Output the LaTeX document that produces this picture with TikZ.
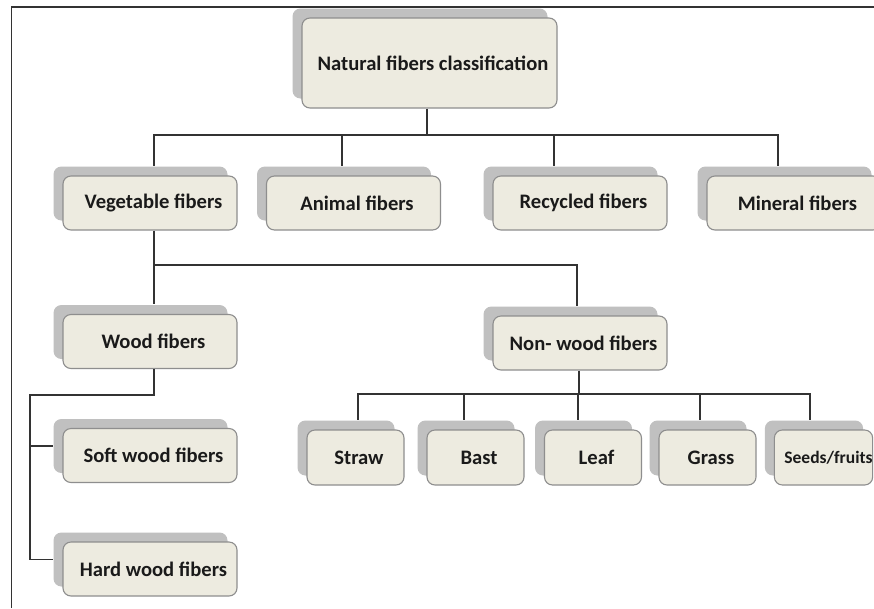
\documentclass[tikz,border=0pt]{standalone}
\usepackage{fontspec}
\setmainfont{Carlito}
\usetikzlibrary{shadows}
\definecolor{boxfill}{HTML}{EDEBE0}
\definecolor{boxedge}{HTML}{8E8E8E}
\definecolor{shade}{HTML}{C0C0C0}
\definecolor{ink}{HTML}{1A1A1A}
\definecolor{wire}{HTML}{333333}
\tikzset{
  fibrebox/.style={draw=boxedge, line width=1.1pt, fill=boxfill, rounded corners=8pt,
    minimum width=174pt, minimum height=54pt, inner sep=0pt, text=ink,
    font=\fontsize{20.6}{24}\selectfont\bfseries,
    execute at begin node=\hspace*{7pt},
    general shadow={shadow xshift=-9.5pt, shadow yshift=9.5pt, fill=shade, draw=none}},
  smallbox/.style={fibrebox, minimum width=97pt, minimum height=55pt},
  link/.style={draw=wire, line width=1.3pt},
  frame/.style={draw=wire, line width=1.8pt}
}
% vertical drop from a bus line to the top of a box's shadow
\newcommand\dropline[3]{\draw[link] ([xshift=#2,yshift=9.5pt]#1.north) -- ([xshift=#2]#1.north |- #3);}
\begin{document}
\begin{tikzpicture}[x=1pt, y=-1pt]
\useasboundingbox (0,0) rectangle (874,608);
\fill[white] (0,0) rectangle (874,608);
% outer frame (top and left edges)
\coordinate (fa) at (11.5,608);
\coordinate (fb) at (11.5,7.3);
\coordinate (fc) at (880,7.3);
\draw[frame] (fa) -- (fb) -- (fc);

% boxes
\node[fibrebox, minimum width=255pt, minimum height=90pt, execute at begin node={}] (top) at (429.5,63) {Natural fibers classification};
\node[fibrebox] (veg)  at (150,203)   {Vegetable fibers};
\node[fibrebox] (anim) at (353.5,203) {Animal fibers};
\node[fibrebox] (recy) at (580,203)   {Recycled fibers};
\node[fibrebox] (mine) at (794,203)   {Mineral fibers};
\node[fibrebox] (wood) at (150,341.5) {Wood fibers};
\node[fibrebox] (nonw) at (580,343)   {Non- wood fibers};
\node[fibrebox] (soft) at (150,455.5) {Soft wood fibers};
\node[fibrebox] (hard) at (150,569)   {Hard wood fibers};
\node[smallbox] (straw) at (355.5,457.5) {Straw};
\node[smallbox] (bast)  at (475.5,457.5) {Bast};
\node[smallbox] (leaf)  at (593,457.5)   {Leaf};
\node[smallbox] (grass) at (707.5,457.5) {Grass};
\node[smallbox, font=\fontsize{17.5}{21}\selectfont\bfseries, execute at begin node=\hspace*{3pt}] (seed) at (823.5,457.5) {Seeds/fruits};

% first level
\coordinate (b1) at (427,135);
\draw[link] ([xshift=-2.5pt]top.south) -- ([xshift=-2.5pt]top.south |- b1);
\draw[link] ([xshift=4pt,yshift=9.5pt]veg.north) |- (b1) -| ([xshift=-16pt,yshift=9.5pt]mine.north);
\dropline{anim}{-11.5pt}{b1}
\dropline{recy}{-26pt}{b1}

% vegetable fibers
\coordinate (b2) at (154,265);
\draw[link] ([xshift=4pt]veg.south) -- ([xshift=4pt,yshift=9.5pt]wood.north);
\draw[link] (b2) -| ([xshift=-3pt,yshift=9.5pt]nonw.north);

% wood fibers
\coordinate (w1) at (30,395);
\coordinate (softw) at ([xshift=-9.5pt,yshift=9.5pt]soft.west);
\draw[link] ([xshift=4pt]wood.south) |- (w1) |- ([xshift=-9.5pt,yshift=9.5pt]hard.west);
\draw[link] (softw -| w1) -- (softw);

% non-wood fibers
\coordinate (b3) at (579,394);
\draw[link] ([xshift=-1pt]nonw.south) -- ([xshift=-1pt]nonw.south |- b3);
\draw[link] ([xshift=2.5pt,yshift=9.5pt]straw.north) |- (b3) -| ([xshift=-13.5pt,yshift=9.5pt]seed.north);
\dropline{bast}{-11.5pt}{b3}
\dropline{leaf}{-15pt}{b3}
\dropline{grass}{-7.5pt}{b3}
\end{tikzpicture}
\end{document}
